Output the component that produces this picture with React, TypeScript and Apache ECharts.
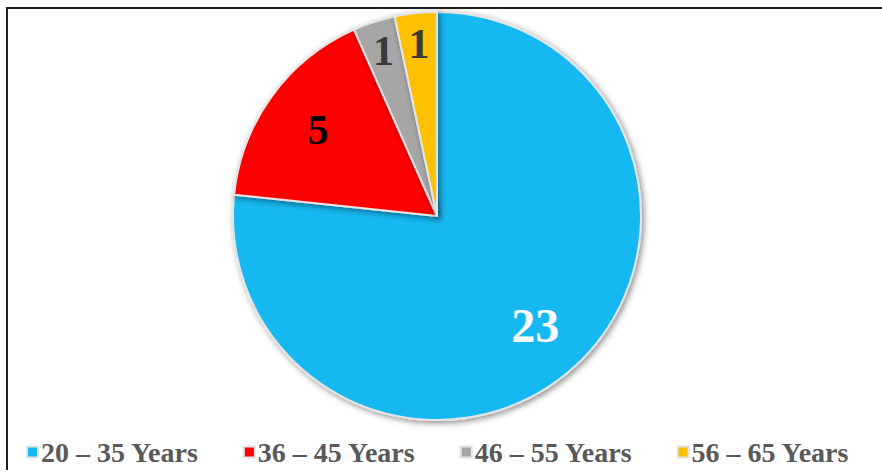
import React, { useEffect, useRef } from 'react';
import * as echarts from 'echarts';

const categories = ['20 – 35 Years', '36 – 45 Years', '46 – 55 Years', '56 – 65 Years'];
const counts = [23, 5, 1, 1];
const sliceColors = ['#17B8F2', '#FF0000', '#A6A6A6', '#FFC000'];
const labelColors = ['#FFFFFF', '#000000', '#3A3A3A', '#3A3A3A'];
const labelSizes = [48, 42, 42, 42];
const outerLabel = [false, false, true, true];

export default function App() {
  const ref = useRef<HTMLDivElement>(null);
  useEffect(() => {
    document.body.style.margin = '0';
    const chart = echarts.init(ref.current!, undefined, { renderer: 'svg' });
    const font = "'Liberation Serif', 'Times New Roman', serif";
    const center = [437, 216];
    const labelData = (outer: boolean) =>
      categories.map((name, i) => ({
        name,
        value: counts[i],
        label: {
          show: outerLabel[i] === outer,
          color: labelColors[i],
          fontSize: labelSizes[i],
          fontWeight: 'bold',
          fontFamily: font,
        },
      }));
    const labelSeries = (radius: number[], outer: boolean) => ({
      type: 'pie',
      center,
      radius,
      startAngle: 90,
      silent: true,
      z: 5,
      itemStyle: { color: 'rgba(0,0,0,0)', borderWidth: 0 },
      label: { position: 'inside', formatter: '{c}' },
      labelLine: { show: false },
      emphasis: { disabled: true },
      data: labelData(outer),
    });
    chart.setOption({
      animation: false,
      backgroundColor: '#ffffff',
      legend: {
        data: categories,
        left: 21,
        top: 433,
        itemGap: 44,
        itemWidth: 11,
        itemHeight: 11,
        icon: 'rect',
        textStyle: { fontFamily: font, fontWeight: 'bold', fontSize: 28, color: '#595959', padding: [0, 0, 0, -2] },
      },
      series: [
        {
          type: 'pie',
          center,
          radius: 204,
          startAngle: 90,
          label: { show: false },
          labelLine: { show: false },
          itemStyle: {
            borderColor: '#E4E4E4',
            borderWidth: 2,
            shadowBlur: 6,
            shadowColor: 'rgba(0,0,0,0.45)',
            shadowOffsetX: 2,
            shadowOffsetY: 2,
          },
          data: categories.map((name, i) => ({
            name,
            value: counts[i],
            itemStyle: { color: sliceColors[i] },
          })),
        },
        labelSeries([124, 164], false),
        labelSeries([150, 190], true),
      ],
    });
    return () => chart.dispose();
  }, []);
  return (
    <div style={{ position: 'relative', width: 882, height: 475 }}>
      <div ref={ref} style={{ position: 'absolute', left: 0, top: 0, width: 882, height: 475 }} />
      <div
        style={{
          position: 'absolute',
          left: 6,
          top: 7,
          width: 876,
          height: 463,
          borderTop: '2px solid #1e1e1e',
          borderLeft: '2px solid #1e1e1e',
          boxSizing: 'border-box',
          pointerEvents: 'none',
        }}
      />
    </div>
  );
}
